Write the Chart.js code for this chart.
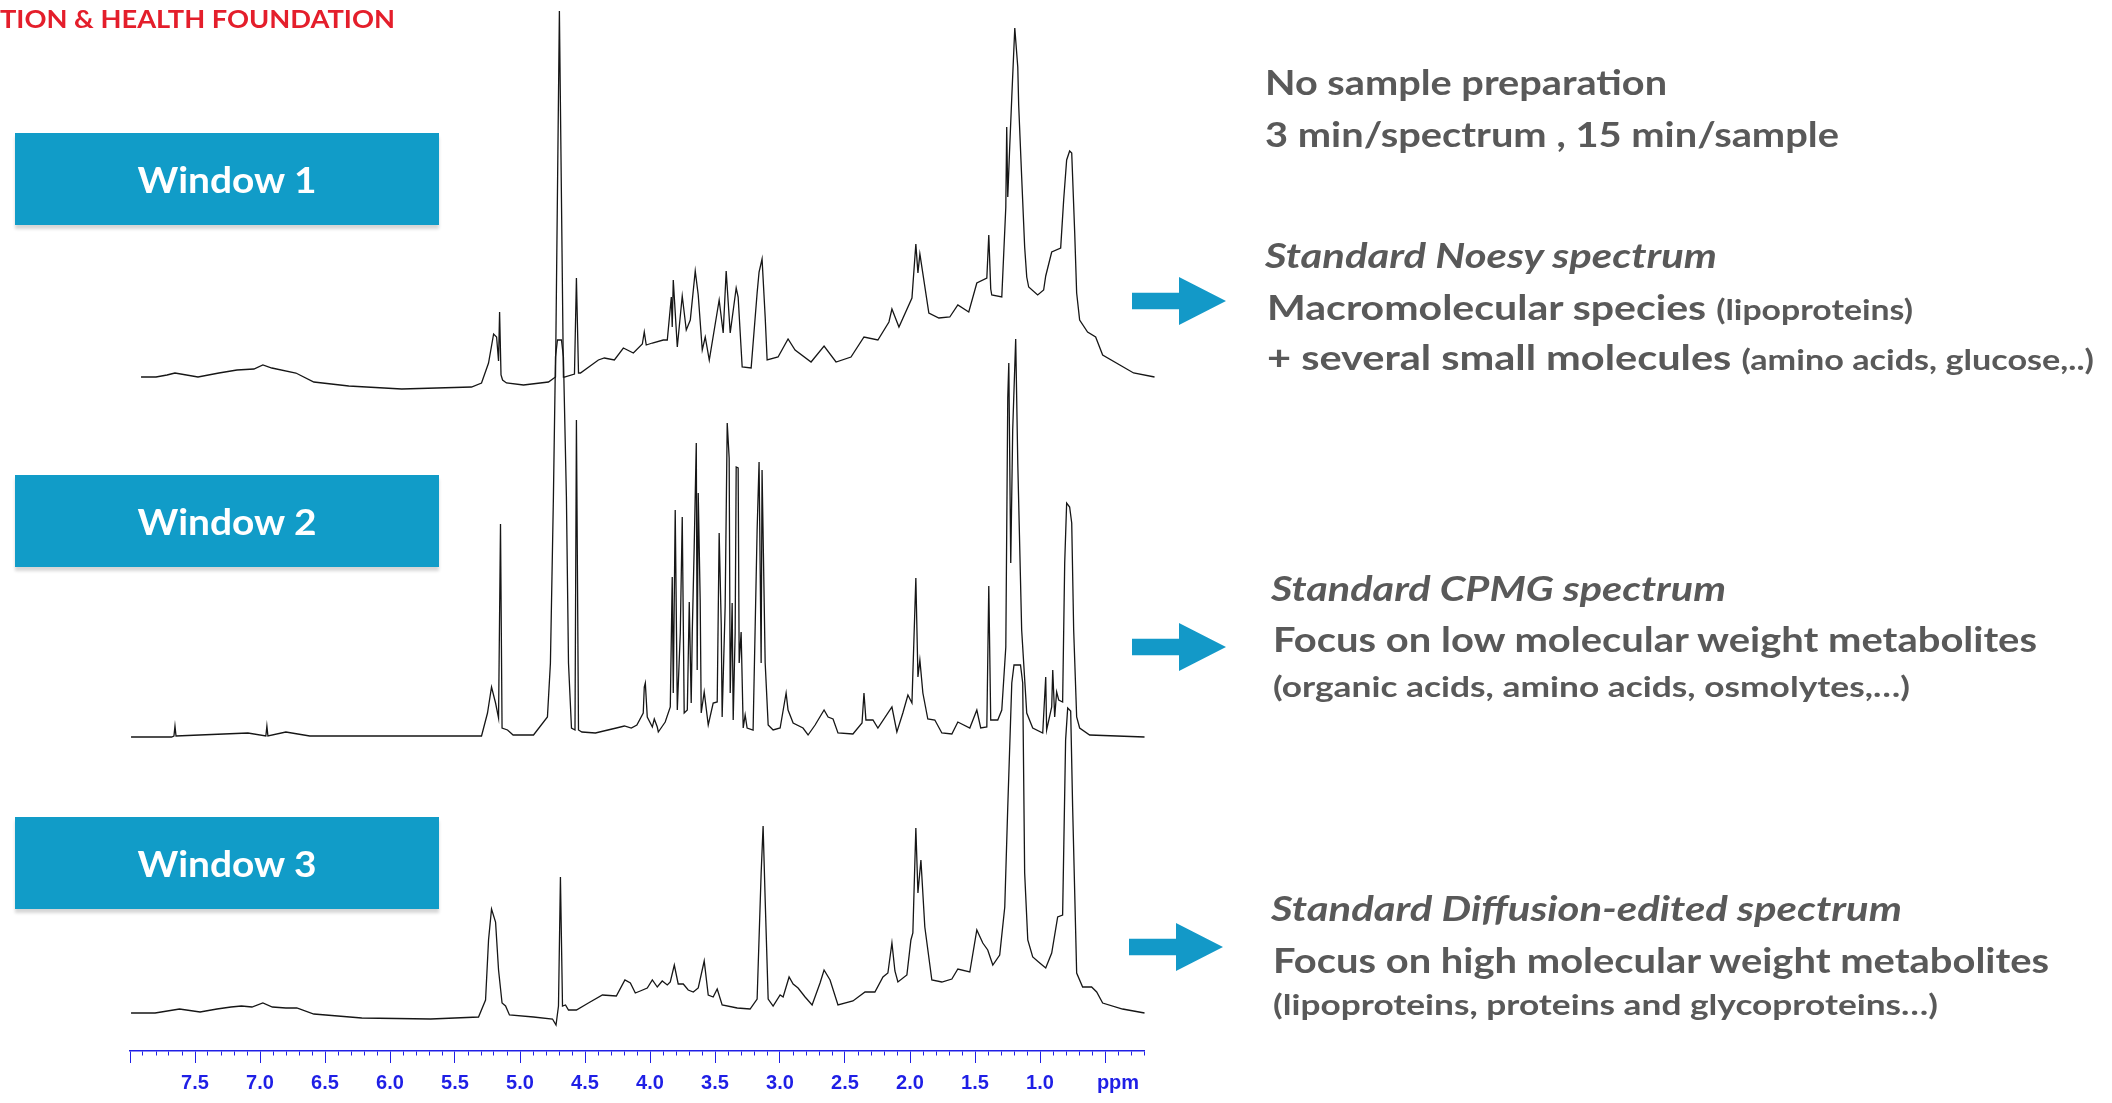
<!DOCTYPE html>
<html lang="en">
<head>
<meta charset="UTF-8">
<title>NMR spectra - three windows</title>
<script src="https://cdn.jsdelivr.net/npm/chart.js"></script>
<style>
  body {
    margin: 0;
    width: 2112px;
    height: 1103px;
    position: relative;
    overflow: hidden;
    background: #fff;
    font-family: Lato, "Open Sans", sans-serif;
  }
  #spectra { position: absolute; left: 0; top: 0; }

  .fit {
    position: absolute;
    white-space: nowrap;
    line-height: 1;
    font-weight: 700;
    transform-origin: 0 0;
  }
  .header { color: #e41e2b; font-size: 25px; }
  .txt { color: #595959; font-size: 34px; }
  .txt.it { font-style: italic; }
  .small { font-size: 28px; }

  .window {
    position: absolute;
    left: 15px;
    width: 424px;
    height: 92px;
    background: #119cc8;
    box-shadow: 0 4px 3px rgba(0, 0, 0, 0.16);
  }
  .window span {
    position: absolute;
    left: 50%;
    top: 28px;
    color: #fff;
    font-size: 36px;
    font-weight: 700;
    line-height: 1;
    white-space: nowrap;
    transform-origin: 0 0;
  }

  .arrow {
    position: absolute;
    width: 94px;
    height: 48px;
    background: #1399c8;
    clip-path: polygon(0 33%, 50% 33%, 50% 0, 100% 50%, 50% 100%, 50% 67%, 0 67%);
  }
</style>
</head>
<body>

<canvas id="spectra" width="2112" height="1103"></canvas>

<div class="fit header" data-x="0" data-b="28" data-w="395">TION &amp; HEALTH FOUNDATION</div>

<!-- Window labels -->
<div class="window" style="top:133px"><span data-w="179">Window 1</span></div>
<div class="window" style="top:475px"><span data-w="179">Window 2</span></div>
<div class="window" style="top:817px"><span data-w="179">Window 3</span></div>

<!-- Right-hand notes -->
<div class="fit txt" data-x="1265" data-b="95" data-w="402">No sample preparation</div>
<div class="fit txt" data-x="1265" data-b="147" data-w="574">3 min/spectrum , 15 min/sample</div>

<div class="fit txt it" data-x="1265" data-b="268" data-w="452">Standard Noesy spectrum</div>
<div class="arrow" style="left:1132px; top:277px"></div>
<div class="fit txt" data-x="1267" data-b="320" data-w="646">Macromolecular species <span class="small">(lipoproteins)</span></div>
<div class="fit txt" data-x="1267" data-b="370" data-w="827">+ several small molecules <span class="small">(amino acids, glucose,..)</span></div>

<div class="fit txt it" data-x="1271" data-b="601" data-w="455">Standard CPMG spectrum</div>
<div class="arrow" style="left:1132px; top:623px"></div>
<div class="fit txt" data-x="1273" data-b="652" data-w="764">Focus on low molecular weight metabolites</div>
<div class="fit txt small" data-x="1273" data-b="697" data-w="637">(organic acids, amino acids, osmolytes,…)</div>

<div class="fit txt it" data-x="1271" data-b="921" data-w="631">Standard Diffusion-edited spectrum</div>
<div class="arrow" style="left:1129px; top:923px"></div>
<div class="fit txt" data-x="1273" data-b="973" data-w="776">Focus on high molecular weight metabolites</div>
<div class="fit txt small" data-x="1273" data-b="1015" data-w="665">(lipoproteins, proteins and glycoproteins…)</div>

<script>
// [ppm, intensity above the spectrum's own baseline]
const noesyPeaks = [
  [7.915,0],[7.800,0],[7.715,2],[7.654,4],[7.477,0],[7.316,4],[7.177,7],[7.047,8],[6.978,12],[6.909,9],
  [6.724,4],[6.586,-5],[6.317,-9],[5.910,-12],[5.373,-10],[5.296,-6],[5.242,14],[5.203,43],[5.180,40],
  [5.165,16],[5.157,65],[5.146,2],[5.134,-3],[5.104,-6],[4.973,-8],[4.781,-5],[4.727,0],[4.697,366],
  [4.666,0],[4.658,0],[4.581,3],[4.566,99],[4.550,4],[4.535,4],[4.397,17],[4.351,19],[4.274,17],
  [4.205,29],[4.128,24],[4.059,33],[4.044,45],[4.029,32],[3.982,34],[3.898,37],[3.867,37],[3.836,80],
  [3.829,50],[3.821,97],[3.790,30],[3.752,81],[3.721,47],[3.690,57],[3.652,106],[3.629,82],[3.598,27],
  [3.575,40],[3.544,17],[3.468,77],[3.437,44],[3.414,106],[3.383,44],[3.337,89],[3.322,80],[3.291,10],
  [3.222,9],[3.176,84],[3.161,105],[3.138,118],[3.114,60],[3.099,17],[3.015,20],[2.938,38],[2.884,27],
  [2.761,15],[2.661,31],[2.569,15],[2.454,20],[2.354,40],[2.247,37],[2.162,55],[2.139,68],[2.085,50],
  [1.985,79],[1.955,133],[1.939,104],[1.924,123],[1.855,64],[1.778,59],[1.694,60],[1.632,72],[1.548,65],
  [1.486,94],[1.409,99],[1.394,142],[1.379,88],[1.371,82],[1.294,80],[1.263,170],[1.256,250],[1.248,180],
  [1.233,230],[1.217,280],[1.194,349],[1.171,310],[1.164,272],[1.141,200],[1.118,130],[1.102,100],
  [1.087,90],[1.018,82],[0.972,87],[0.956,101],[0.910,125],[0.841,129],[0.818,177],[0.795,217],
  [0.772,226],[0.756,224],[0.733,144],[0.718,84],[0.695,57],[0.634,45],[0.572,40],[0.518,22],
  [0.280,4],[0.119,0]
];

const cpmgPeaks = [
  [7.992,0],[7.680,0],[7.662,1],[7.654,11],[7.646,1],[7.465,2],[7.093,4],[6.955,1],[6.947,11],[6.939,1],
  [6.801,5],[6.617,1],[5.296,1],[5.250,24],[5.219,50],[5.188,34],[5.165,19],[5.150,213],[5.138,9],
  [5.096,7],[5.053,2],[4.896,2],[4.789,20],[4.766,74],[4.743,240],[4.727,380],[4.712,397],[4.681,397],
  [4.666,380],[4.643,240],[4.627,74],[4.604,9],[4.577,7],[4.566,317],[4.550,7],[4.524,5],[4.420,4],
  [4.259,9],[4.197,11],[4.144,9],[4.101,12],[4.052,24],[4.044,50],[4.036,54],[4.021,20],[3.982,10],
  [3.967,18],[3.944,10],[3.936,5],[3.883,15],[3.844,30],[3.829,160],[3.821,44],[3.806,227],[3.790,27],
  [3.767,104],[3.752,220],[3.737,24],[3.713,27],[3.698,135],[3.683,34],[3.675,104],[3.660,190],
  [3.644,294],[3.637,67],[3.629,244],[3.614,137],[3.606,24],[3.583,45],[3.552,12],[3.514,34],[3.483,35],
  [3.468,204],[3.452,112],[3.445,20],[3.422,130],[3.406,314],[3.391,279],[3.383,44],[3.368,134],
  [3.360,17],[3.345,104],[3.337,270],[3.322,269],[3.314,74],[3.299,105],[3.283,9],[3.268,22],[3.253,9],
  [3.207,7],[3.176,207],[3.161,275],[3.145,74],[3.138,267],[3.114,74],[3.091,12],[3.053,7],[2.999,9],
  [2.953,44],[2.938,27],[2.899,14],[2.823,9],[2.784,2],[2.730,12],[2.661,27],[2.630,20],[2.592,18],
  [2.554,4],[2.439,3],[2.369,14],[2.354,44],[2.339,17],[2.285,17],[2.247,9],[2.139,30],[2.101,5],
  [2.055,24],[2.016,42],[1.985,34],[1.955,159],[1.939,60],[1.924,77],[1.901,44],[1.863,18],[1.809,17],
  [1.755,4],[1.678,3],[1.632,15],[1.540,9],[1.486,27],[1.456,9],[1.409,10],[1.394,151],[1.379,17],
  [1.325,17],[1.294,27],[1.263,90],[1.248,339],[1.240,374],[1.225,174],[1.210,307],[1.187,398],
  [1.171,274],[1.141,107],[1.102,24],[1.056,9],[0.979,4],[0.956,60],[0.949,7],[0.910,30],[0.902,67],
  [0.887,20],[0.872,45],[0.856,37],[0.826,35],[0.810,174],[0.795,234],[0.772,230],[0.756,214],
  [0.741,107],[0.718,20],[0.695,9],[0.618,2],[0.196,0]
];

const diffusionPeaks = [
  [7.992,0],[7.807,0],[7.619,4],[7.461,1],[7.331,4],[7.223,6],[7.143,7],[7.062,6],[6.978,10],[6.905,6],
  [6.801,5],[6.717,5],[6.586,-1],[6.217,-5],[5.687,-6],[5.319,-4],[5.265,13],[5.242,73],[5.219,104],
  [5.188,91],[5.165,43],[5.138,10],[5.111,7],[5.081,-2],[4.896,-4],[4.750,-6],[4.723,-12],[4.704,7],
  [4.689,136],[4.673,7],[4.650,8],[4.627,3],[4.566,3],[4.474,10],[4.366,18],[4.259,17],[4.193,33],
  [4.151,30],[4.113,20],[4.075,22],[4.021,25],[3.982,33],[3.944,26],[3.906,32],[3.867,28],[3.844,31],
  [3.813,48],[3.783,29],[3.744,29],[3.706,23],[3.667,21],[3.629,25],[3.583,52],[3.552,18],[3.514,16],
  [3.483,24],[3.445,8],[3.329,5],[3.230,4],[3.176,14],[3.145,140],[3.130,187],[3.114,113],[3.091,14],
  [3.053,7],[2.999,18],[2.976,16],[2.930,36],[2.899,29],[2.861,25],[2.807,16],[2.753,8],[2.692,30],
  [2.661,43],[2.615,33],[2.554,8],[2.439,12],[2.346,21],[2.270,21],[2.208,36],[2.170,40],[2.139,70],
  [2.116,42],[2.093,31],[2.024,38],[1.993,73],[1.978,80],[1.955,185],[1.939,120],[1.916,153],[1.886,86],
  [1.832,33],[1.755,31],[1.678,34],[1.632,44],[1.540,41],[1.486,83],[1.440,70],[1.402,63],[1.363,48],
  [1.310,58],[1.271,106],[1.248,206],[1.217,330],[1.200,348],[1.150,348],[1.133,330],[1.118,140],
  [1.094,73],[1.056,56],[1.002,50],[0.956,45],[0.910,60],[0.864,96],[0.826,98],[0.803,273],[0.787,305],
  [0.764,302],[0.749,206],[0.718,40],[0.672,26],[0.603,26],[0.564,21],[0.518,10],[0.365,4],[0.196,0]
];

// vertical stacking of the three spectra (intensity units)
const noesyOffset = 636;
const cpmgOffset = 276;
const diffusionOffset = 0;

// axis
const ppmMin = 0.2;
const ppmMax = 8.0;
const tickLabels = ['7.5','7.0','6.5','6.0','5.5','5.0','4.5','4.0','3.5','3.0','2.5','2.0','1.5','1.0'];
const unitLabel = 'ppm';
const unitTick = 0.4;

const blue = '#1f1fe6';

function toPoints(peaks, offset) {
  return peaks.map(p => ({ x: p[0], y: offset + p[1] }));
}

function spectrum(label, peaks, offset) {
  return {
    label: label,
    data: toPoints(peaks, offset),
    borderColor: '#161616',
    borderWidth: 1.3,
    pointRadius: 0,
    tension: 0,
    fill: false,
    clip: false
  };
}

function drawChart() {
  new Chart(document.getElementById('spectra'), {
    type: 'line',
    data: {
      datasets: [
        spectrum('Noesy', noesyPeaks, noesyOffset),
        spectrum('CPMG', cpmgPeaks, cpmgOffset),
        spectrum('Diffusion-edited', diffusionPeaks, diffusionOffset)
      ]
    },
    options: {
      responsive: false,
      animation: false,
      devicePixelRatio: 1,
      layout: { padding: { left: 130, right: 968, top: 0, bottom: 0 } },
      plugins: { legend: { display: false }, tooltip: { enabled: false } },
      scales: {
        x: {
          type: 'linear',
          reverse: true,
          min: ppmMin,
          max: ppmMax,
          afterFit: s => { s.height = 52; },
          border: { display: true, color: blue, width: 1.5 },
          grid: {
            drawOnChartArea: false,
            drawTicks: true,
            tickLength: 12,
            tickColor: blue,
            tickWidth: 1,
            tickBorderDash: ctx => (Math.round(ctx.tick.value * 10) % 5 === 0 ? [] : [4, 100])
          },
          ticks: {
            stepSize: 0.1,
            autoSkip: false,
            maxRotation: 0,
            padding: 8,
            color: blue,
            font: { family: '"Liberation Sans", Arial, sans-serif', size: 20, weight: 'bold' },
            callback: v => {
              const t = Math.round(v * 10);
              if (t === Math.round(unitTick * 10)) return unitLabel;
              const s = (t / 10).toFixed(1);
              return tickLabels.includes(s) ? s : '';
            }
          }
        },
        y: {
          display: false,
          min: -38,
          max: 1013
        }
      }
    }
  });
}

function fitTexts() {
  document.querySelectorAll('.fit').forEach(el => {
    const fs = parseFloat(getComputedStyle(el).fontSize);
    el.style.left = el.dataset.x + 'px';
    el.style.top = (el.dataset.b - 0.887 * fs) + 'px';
    const w = el.getBoundingClientRect().width;
    el.style.transform = 'scaleX(' + (el.dataset.w / w) + ')';
  });
  document.querySelectorAll('.window span').forEach(el => {
    const w = el.getBoundingClientRect().width;
    const k = el.dataset.w / w;
    el.style.transform = 'translateX(' + (-el.dataset.w / 2) + 'px) scaleX(' + k + ')';
  });
}

drawChart();
document.fonts.ready.then(fitTexts);
</script>
</body>
</html>
